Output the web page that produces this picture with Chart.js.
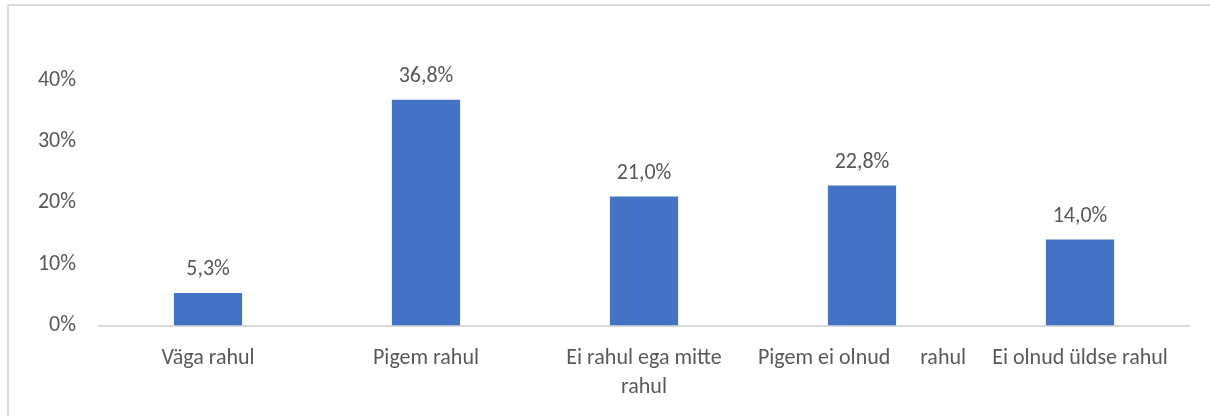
<!DOCTYPE html>
<html>
<head>
<meta charset="utf-8">
<script src="https://cdn.jsdelivr.net/npm/chart.js@4/dist/chart.umd.min.js"></script>
<style>
  html, body { margin:0; padding:0; background:#fff; overflow:hidden; }
  #frame { position:absolute; left:7px; top:4px; width:1400px; height:600px; border:2px solid #dcdcdc; box-sizing:border-box; }
  #c { position:absolute; left:0; top:0; }
</style>
</head>
<body>
<div id="frame"></div>
<canvas id="c" width="1210" height="416"></canvas>
<script>
const categories = ["Väga rahul", "Pigem rahul", ["Ei rahul ega mitte", "rahul"], "Pigem ei olnud      rahul", "Ei olnud üldse rahul"];
const values = [5.3, 36.8, 21.0, 22.8, 14.0];
const yTicks = [0, 10, 20, 30, 40];

const FONT = "Carlito, Calibri, Lato, 'Liberation Sans', sans-serif";
const TEXT = "#595959";
const FS = 22;

const fmt = v => v.toFixed(1).replace('.', ',') + '%';

const labelPlugin = {
  id: 'barLabels',
  afterDatasetsDraw(chart) {
    const ctx = chart.ctx;
    const meta = chart.getDatasetMeta(0);
    ctx.save();
    ctx.font = FS + "px " + FONT;
    ctx.fillStyle = TEXT;
    ctx.textAlign = 'center';
    ctx.textBaseline = 'middle';
    meta.data.forEach((bar, i) => {
      ctx.fillText(fmt(values[i]), bar.x, bar.y - 23);
    });
    ctx.restore();
  }
};

new Chart(document.getElementById('c'), {
  type: 'bar',
  data: {
    labels: categories,
    datasets: [{
      data: values,
      backgroundColor: '#4472C4',
      borderWidth: 0,
      categoryPercentage: 1.0,
      barPercentage: 0.313
    }]
  },
  options: {
    responsive: false,
    animation: false,
    layout: { padding: { top: 80, right: 21, left: 0, bottom: 0 } },
    plugins: { legend: { display: false }, tooltip: { enabled: false } },
    scales: {
      x: {
        grid: { display: false, drawTicks: false },
        border: { display: true, color: '#d9d9d9', width: 2 },
        ticks: { color: TEXT, font: { family: FONT, size: FS, lineHeight: 1.3 }, padding: 19, maxRotation: 0, autoSkip: false },
        afterFit(s) { s.height = 90.5; }
      },
      y: {
        min: 0, max: 40,
        afterBuildTicks(s) { s.ticks = yTicks.map(v => ({ value: v })); },
        grid: { display: false, drawTicks: false },
        border: { display: false },
        ticks: { color: TEXT, font: { family: FONT, size: FS }, padding: 23, callback: v => v + '%' },
        afterFit(s) { s.width = 99; }
      }
    }
  },
  plugins: [labelPlugin]
});
</script>
</body>
</html>
